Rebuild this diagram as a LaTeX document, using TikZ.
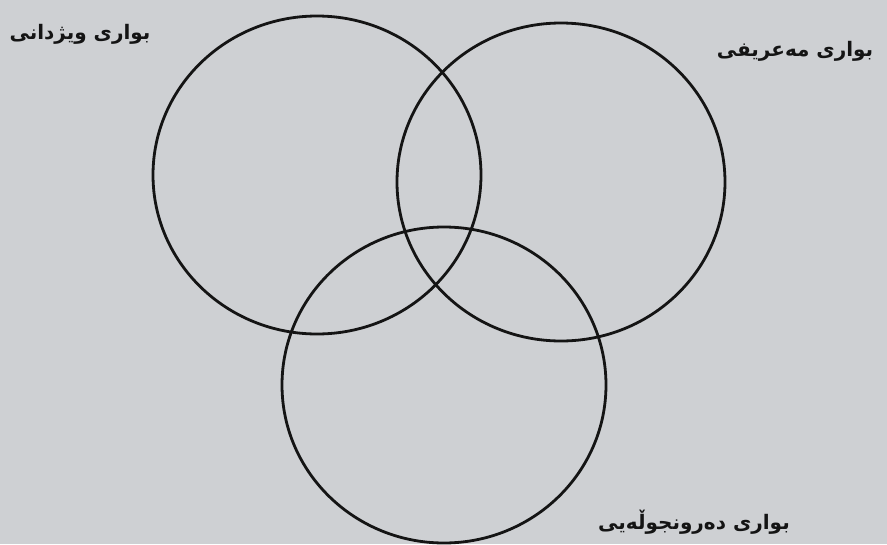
\documentclass[tikz,border=0pt]{standalone}
\usepackage{fontspec}
\TeXXeTstate=1
\newfontfamily\arabicfont[Script=Arabic]{DejaVu Sans}
\definecolor{paper}{RGB}{206,208,211}
\definecolor{ink}{RGB}{20,20,20}
\begin{document}
\begin{tikzpicture}[x=1pt,y=-1pt,
  ring/.style={draw=ink,line width=2.8pt},
  lbl/.style={font=\arabicfont\bfseries\fontsize{20}{24}\selectfont,text=ink,inner sep=0pt}]
\fill[paper] (0,0) rectangle (887,544);
\useasboundingbox (0,0) rectangle (887,544);
\draw[ring] (317,175) ellipse [x radius=164,y radius=159];
\draw[ring] (561,182) ellipse [x radius=164,y radius=159];
\draw[ring] (444,385) ellipse [x radius=162,y radius=158];
\node[lbl] (a) at (80,34) {\beginR بواری ویژدانی\endR};
\node[lbl] (b) at (795,51) {\beginR بواری مەعریفی\endR};
\node[lbl] (c) at (694,522) {\beginR بواری دەرونجوڵەیی\endR};
\end{tikzpicture}
\end{document}
